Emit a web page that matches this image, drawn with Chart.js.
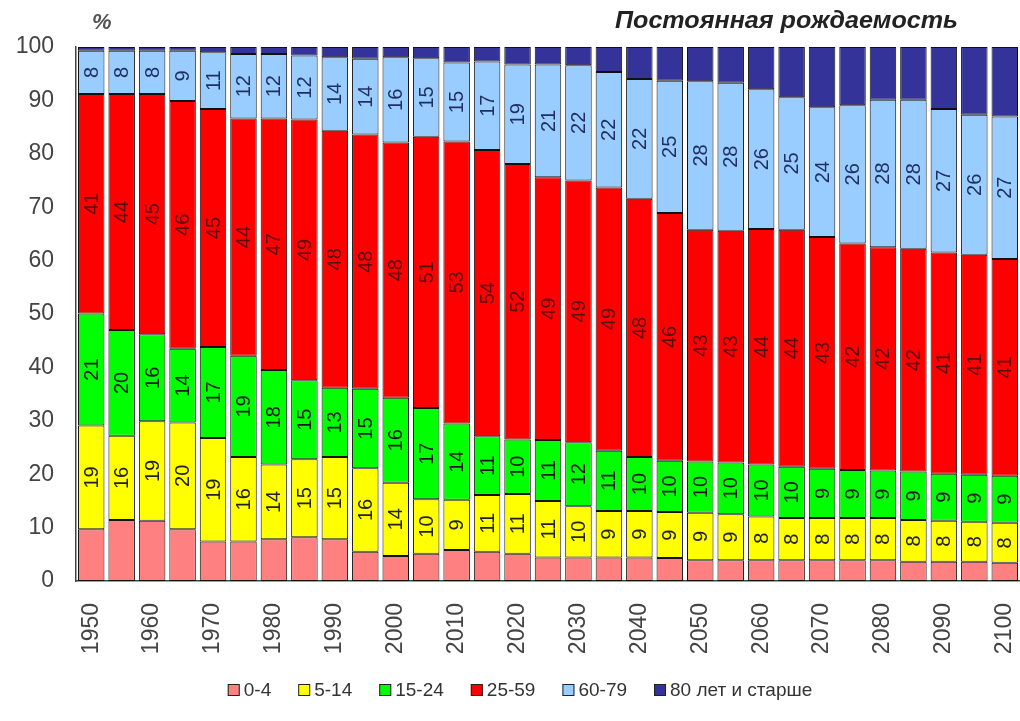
<!DOCTYPE html>
<html><head><meta charset="utf-8">
<script src="https://cdn.jsdelivr.net/npm/chart.js@4"></script>
<style>html,body{margin:0;padding:0;background:#fff;overflow:hidden}</style>
</head><body>
<canvas id="c" width="1020" height="721"></canvas>
<script>
const years = [1950,1955,1960,1965,1970,1975,1980,1985,1990,1995,2000,2005,2010,2015,2020,2025,2030,2035,2040,2045,2050,2055,2060,2065,2070,2075,2080,2085,2090,2095,2100];
const age0_4   = [9.7,11.4,11.3,9.7,7.4,7.4,7.8,8.2,7.8, 5.5,4.7,5.1,5.8,5.5,5.1,4.4,4.4,4.4,4.4,4.3, 3.9,3.9,3.9,3.9,3.9,3.9,3.9,3.6,3.6,3.6,3.4];
const age5_14  = [19.4,15.8,18.6,20.0,19.4,15.8,14.0,14.6,15.4, 15.6,13.7,10.2,9.4,10.6,11.2,10.6,9.6,8.7,8.7,8.6, 8.9,8.6,8.2,7.9,7.9,7.9,7.9,7.8,7.7,7.5,7.5];
const age15_24 = [21.0,19.8,16.3,13.8,17.0,19.0,17.7,14.8,13.0, 14.9,15.9,17.1,14.3,11.0,10.2,11.4,12.0,11.3,10.1,9.6, 9.6,9.7,9.7,9.6,9.2,9.0,8.9,9.1,8.8,8.8,8.8];
const age25_59 = [41.1,44.2,45.0,46.4,44.6,44.4,47.1,48.8,48.1, 47.6,47.8,50.8,52.8,53.6,51.6,49.2,49.0,49.3,48.4,46.4, 43.4,43.4,44.1,44.4,43.4,42.4,41.8,41.7,41.4,41.2,40.6];
const age60_79 = [8.1,8.1,8.1,9.4,10.6,12.1,12.1,12.0,13.8, 14.2,16.0,14.7,14.8,16.6,18.6,21.1,21.6,21.6,22.4,24.8, 27.8,27.7,26.2,24.8,24.3,25.9,27.6,27.9,26.9,26.2,26.7];
const age80    = [0.7,0.7,0.7,0.7,1.0,1.3,1.3,1.6,1.9, 2.2,1.9,2.1,2.9,2.7,3.3,3.3,3.4,4.7,6.0,6.3, 6.4,6.7,7.9,9.4,11.3,10.9,9.9,9.9,11.6,12.7,13.0];
const seriesNames = ['0-4','5-14','15-24','25-59','60-79','80 лет и старше'];
const yTicks = [0,10,20,30,40,50,60,70,80,90,100];
const titleText = 'Постоянная рождаемость';
const unitText = '%';

const FONT = "'Liberation Sans', Arial, sans-serif";
const fills = ['#FF8080','#FFFF00','#00FF00','#FF0000','#99CCFF','#333399'];
const labelColors = [null,'#222222','#1a1a1a','#5a0a0a','#1f2f5f',null];
const allSeries = [age0_4,age5_14,age15_24,age25_59,age60_79,age80];

const datasets = allSeries.map((d,i)=>({
  label: seriesNames[i],
  data: d,
  backgroundColor: fills[i],
  borderColor: '#111111',
  borderWidth: 1,
  borderSkipped: false,
  barPercentage: 0.87,
  categoryPercentage: 1.0
}));

const segLabels = {
  id:'segLabels',
  afterDatasetsDraw(chart){
    const ctx = chart.ctx;
    ctx.save();
    ctx.font = '20px ' + FONT;
    ctx.textAlign = 'center';
    ctx.textBaseline = 'middle';
    chart.data.datasets.forEach((ds,di)=>{
      if(!labelColors[di]) return;
      const meta = chart.getDatasetMeta(di);
      meta.data.forEach((el,i)=>{
        const cy = (el.y + el.base)/2;
        ctx.save();
        ctx.translate(el.x, cy);
        ctx.rotate(-Math.PI/2);
        ctx.fillStyle = labelColors[di];
        ctx.fillText(String(Math.round(ds.data[i])), 0, 1);
        ctx.restore();
      });
    });
    ctx.restore();
  }
};

const decor = {
  id:'decor',
  afterDraw(chart){
    const ctx = chart.ctx;
    ctx.save();
    ctx.fillStyle = '#555555';
    ctx.font = 'italic bold 22px ' + FONT;
    ctx.textAlign = 'left';
    ctx.textBaseline = 'alphabetic';
    ctx.fillText(unitText, 92, 29);
    ctx.font = 'italic bold 24px ' + FONT;
    ctx.fillStyle = '#222222';
    const w = ctx.measureText(titleText).width;
    ctx.save();
    ctx.translate(615, 28);
    ctx.scale(343 / w, 1);
    ctx.fillText(titleText, 0, 0);
    ctx.restore();
    ctx.font = '19px ' + FONT;
    ctx.textBaseline = 'middle';
    const box = 12, gap = 4, spacing = 27;
    const widths = seriesNames.map(n => box + gap + ctx.measureText(n).width);
    const total = widths.reduce((a,b)=>a+b,0) + spacing*(widths.length-1);
    let x = 520 - total/2;
    const y = 690;
    chart.data.datasets.forEach((ds,i)=>{
      ctx.fillStyle = ds.backgroundColor;
      ctx.fillRect(x, y-box/2, box, box);
      ctx.strokeStyle = '#222222';
      ctx.lineWidth = 1;
      ctx.strokeRect(x+0.5, y-box/2+0.5, box-1, box-1);
      ctx.fillStyle = '#333333';
      ctx.fillText(ds.label, x+box+gap, y+1);
      x += widths[i] + spacing;
    });
    ctx.restore();
  }
};

new Chart(document.getElementById('c'), {
  type:'bar',
  data:{ labels: years.map(String), datasets },
  options:{
    responsive:false,
    animation:false,
    devicePixelRatio:1,
    layout:{ padding:{ top:47, right:0, bottom:0, left:0 } },
    plugins:{ legend:{display:false}, tooltip:{enabled:false} },
    scales:{
      x:{
        stacked:true,
        grid:{display:false, drawTicks:false},
        border:{display:true, color:'#444444', width:1.5},
        ticks:{
          autoSkip:false, minRotation:90, maxRotation:90, padding:22,
          color:'#444444', font:{family:FONT, size:23},
          callback:(v,i)=> (years[i] % 10 === 0 ? String(years[i]) : '')
        },
        afterFit:(s)=>{ s.height = 140; s.paddingLeft = 0; s.paddingRight = 0; }
      },
      y:{
        stacked:true, min:0, max:100,
        grid:{display:false, drawTicks:false},
        border:{display:true, color:'#444444', width:1.5},
        afterBuildTicks:(s)=>{ s.ticks = yTicks.map(v=>({value:v})); },
        ticks:{ padding:22, color:'#444444', font:{family:FONT, size:23} },
        afterFit:(s)=>{ s.width = 76; s.paddingTop = 0; s.paddingBottom = 0; }
      }
    }
  },
  plugins:[segLabels, decor]
});
</script>
</body></html>
